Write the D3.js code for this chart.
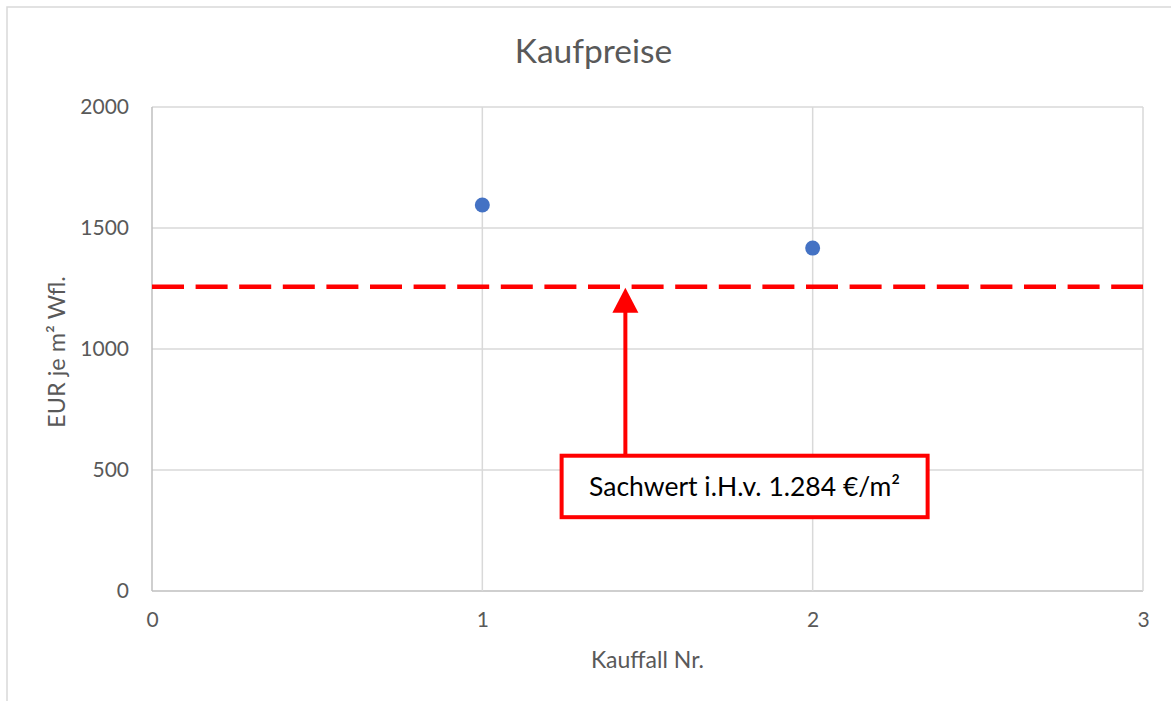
<!DOCTYPE html>
<html>
<head>
<meta charset="utf-8">
<script src="https://cdn.jsdelivr.net/npm/d3@7"></script>
<style>
  html, body { margin: 0; padding: 0; background: #fff; }
  text { font-family: Lato, "Open Sans", sans-serif; }
</style>
</head>
<body>
<div id="chart"></div>
<script>
// data
const kauffall = [1, 2];
const preise = [1595, 1417];
const xTicks = [0, 1, 2, 3];
const yTicks = [0, 500, 1000, 1500, 2000];
const sachwert = 1257;               // where the dashed line sits
const sachwertText = 'Sachwert i.H.v. 1.284 €/m²';
const arrowX = 1.433;                 // arrow position in Kauffall units
const boxX = [1.24, 2.348];           // label box, x range
const boxY = [305, 559];              // label box, y range

const titleText = 'Kaufpreise';
const xTitle = 'Kauffall Nr.';
const yTitle = 'EUR je m² Wfl.';

//chart dimensions
const width = 1171;
const height = 701;
const margin = {top: 107, right: 28, bottom: 110, left: 152};

const grey = '#595959';
const gridCol = '#d9d9d9';

let mySVG = d3.select('#chart')
    .append('svg')
        .attr('width', width)
        .attr('height', height);

// outer chart frame
mySVG.append('rect')
    .attr('x', 7).attr('y', 7)
    .attr('width', width + 10).attr('height', height + 10)
    .attr('fill', 'none')
    .attr('stroke', gridCol)
    .attr('stroke-width', 1.5);

let x = d3.scaleLinear()
    .domain([0, 3])
    .range([margin.left, width - margin.right]);

let y = d3.scaleLinear()
    .domain([0, 2000])
    .range([height - margin.bottom, margin.top]);

//gridlines
mySVG.append('g')
    .selectAll('line.hgrid')
    .data(yTicks)
    .join('line')
        .attr('x1', x(0)).attr('x2', x(3))
        .attr('y1', d => y(d)).attr('y2', d => y(d))
        .attr('stroke', d => d === 0 ? '#bfbfbf' : gridCol)
        .attr('stroke-width', 1.5);

mySVG.append('g')
    .selectAll('line.vgrid')
    .data(xTicks)
    .join('line')
        .attr('y1', y(0)).attr('y2', y(2000))
        .attr('x1', d => x(d)).attr('x2', d => x(d))
        .attr('stroke', d => d === 0 ? '#bfbfbf' : gridCol)
        .attr('stroke-width', 1.5);

//y-Axis
mySVG.append('g')
    .attr('transform', `translate(${margin.left - 23}, 0)`)
    .call(d3.axisLeft(y).tickValues(yTicks).tickSize(0).tickPadding(0).tickFormat(d3.format('d')))
    .call(g => g.select('.domain').remove())
    .selectAll('text')
        .attr('fill', grey)
        .style('font-size', '21px')
        .style('font-family', 'Lato, sans-serif');

//x-Axis
mySVG.append('g')
    .attr('transform', `translate(0, ${y(0) + 21})`)
    .call(d3.axisBottom(x).tickValues(xTicks).tickSize(0).tickPadding(0).tickFormat(d3.format('d')))
    .call(g => g.select('.domain').remove())
    .selectAll('text')
        .attr('fill', grey)
        .style('font-size', '21px')
        .style('font-family', 'Lato, sans-serif');

//titles
mySVG.append('text')
    .attr('x', (x(0) + x(3)) / 2 - 54)
    .attr('y', 63)
    .attr('text-anchor', 'middle')
    .attr('fill', grey)
    .style('font-size', '33.5px')
    .text(titleText);

mySVG.append('text')
    .attr('x', (x(0) + x(3)) / 2)
    .attr('y', 668)
    .attr('text-anchor', 'middle')
    .attr('fill', grey)
    .style('font-size', '23px')
    .text(xTitle);

mySVG.append('text')
    .attr('transform', `translate(65, ${(y(0) + y(2000)) / 2 + 3}) rotate(-90)`)
    .attr('text-anchor', 'middle')
    .attr('fill', grey)
    .style('font-size', '23.5px')
    .text(yTitle);

//dashed Sachwert line
mySVG.append('line')
    .attr('x1', x(0)).attr('x2', x(3))
    .attr('y1', y(sachwert)).attr('y2', y(sachwert))
    .attr('stroke', '#ff0000')
    .attr('stroke-width', 4.5)
    .attr('stroke-dasharray', '32,11.6');

//points
mySVG.append('g')
    .selectAll('circle')
    .data(kauffall)
    .join('circle')
        .attr('cx', d => x(d))
        .attr('cy', (d, i) => y(preise[i]))
        .attr('r', 7.5)
        .attr('fill', '#4472c4');

//arrow
let ax = x(arrowX);
let tipY = y(sachwert);
mySVG.append('line')
    .attr('x1', ax).attr('x2', ax)
    .attr('y1', y(boxY[1])).attr('y2', tipY + 24)
    .attr('stroke', '#ff0000')
    .attr('stroke-width', 4);

mySVG.append('path')
    .attr('d', `M${ax},${tipY + 1} L${ax - 13},${tipY + 26} L${ax + 13},${tipY + 26} Z`)
    .attr('fill', '#ff0000');

//label box
mySVG.append('rect')
    .attr('x', x(boxX[0]))
    .attr('y', y(boxY[1]))
    .attr('width', x(boxX[1]) - x(boxX[0]))
    .attr('height', y(boxY[0]) - y(boxY[1]))
    .attr('fill', '#fff')
    .attr('stroke', '#ff0000')
    .attr('stroke-width', 4);

mySVG.append('text')
    .attr('x', (x(boxX[0]) + x(boxX[1])) / 2)
    .attr('y', (y(boxY[0]) + y(boxY[1])) / 2 + 10)
    .attr('text-anchor', 'middle')
    .attr('fill', '#000')
    .style('font-size', '26.5px')
    .text(sachwertText);
</script>
</body>
</html>
